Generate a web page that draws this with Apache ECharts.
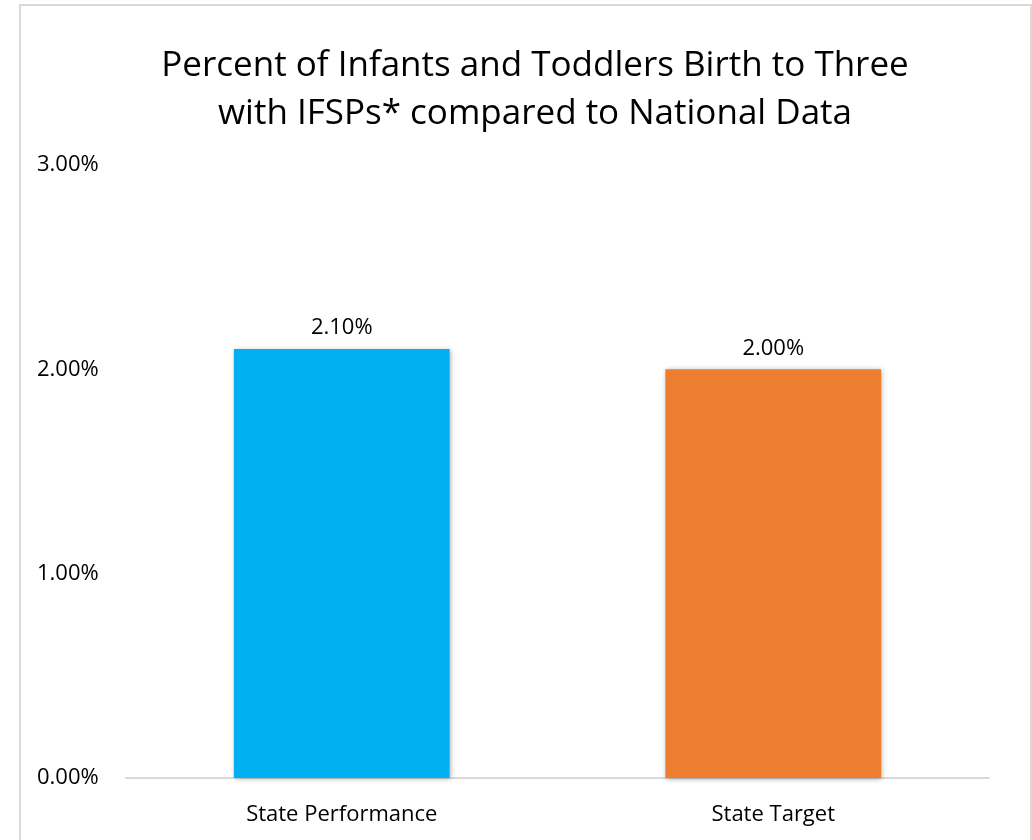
<!DOCTYPE html>
<html>
<head>
<meta charset="utf-8">
<script src="https://cdn.jsdelivr.net/npm/echarts@6/dist/echarts.min.js"></script>
<style>
html,body{margin:0;padding:0;background:#fff;}
#chart{width:1032px;height:840px;}
</style>
</head>
<body>
<div id="chart"></div>
<script>
var titleLines = ['Percent of Infants and Toddlers Birth to Three', 'with IFSPs* compared to National Data'];
var categories = ['State Performance', 'State Target'];
var values = [2.10, 2.00];
var colors = ['#00B0F0', '#ED7D31'];
var yMin = 0, yMax = 3, yInterval = 1;

var FONT = '"Open Sans", "Noto Sans", sans-serif';
var chart = echarts.init(document.getElementById('chart'), null, {renderer: 'canvas'});
chart.setOption({
  backgroundColor: '#fff',
  animation: false,
  graphic: [{
    type: 'rect',
    shape: {x: 20, y: 5, width: 1011, height: 860},
    style: {fill: 'none', stroke: '#d9d9d9', lineWidth: 2},
    silent: true
  }],
  title: {
    text: titleLines.join('\n'),
    left: 530,
    textAlign: 'center',
    top: 37,
    textStyle: {fontFamily: FONT, fontSize: 35, fontWeight: 'normal', color: '#000', lineHeight: 48}
  },
  grid: {left: 126, right: 43, top: 165, bottom: 62},
  xAxis: {
    type: 'category',
    data: categories,
    axisLine: {show: true, lineStyle: {color: '#d9d9d9', width: 2}},
    axisTick: {show: false},
    axisLabel: {fontFamily: FONT, fontSize: 22, color: '#000', margin: 26}
  },
  yAxis: {
    type: 'value',
    min: yMin, max: yMax, interval: yInterval,
    splitLine: {show: false},
    axisLine: {show: false},
    axisTick: {show: false},
    axisLabel: {
      fontFamily: FONT, fontSize: 22, color: '#000', align: 'left', margin: 89,
      formatter: function (v) { return v.toFixed(2) + '%'; }
    }
  },
  series: [{
    type: 'bar',
    barWidth: '50%',
    data: values.map(function (v, i) {
      return {value: v, itemStyle: {color: colors[i]}};
    }),
    itemStyle: {shadowColor: 'rgba(0,0,0,0.35)', shadowBlur: 5, shadowOffsetX: 1, shadowOffsetY: 1},
    label: {
      show: true, position: 'top', distance: 10,
      fontFamily: FONT, fontSize: 22, color: '#000',
      formatter: function (p) { return p.value.toFixed(2) + '%'; }
    }
  }]
});
</script>
</body>
</html>
